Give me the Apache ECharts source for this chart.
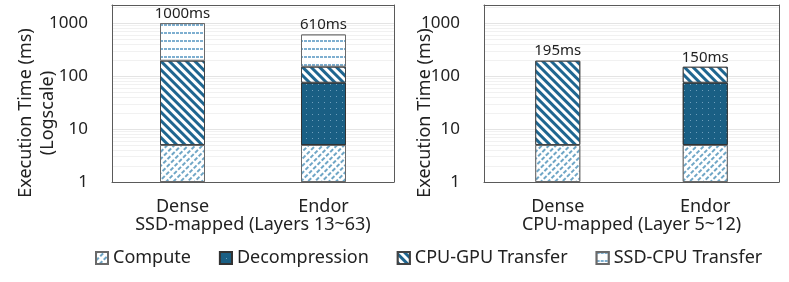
<!DOCTYPE html>
<html><head><meta charset="utf-8">
<script src="https://cdn.jsdelivr.net/npm/echarts@6/dist/echarts.min.js"></script>
<style>html,body{margin:0;padding:0;background:#fff}#c{width:789px;height:282px}</style>
</head><body><div id="c"></div>
<script>
const categories = ['Dense', 'Endor'];
const panelTitles = ['SSD-mapped (Layers 13~63)', 'CPU-mapped (Layer 5~12)'];
const yTicks = [1, 10, 100, 1000];
// left panel (SSD-mapped) segment values in ms
const ssdCompute = [5, 5];
const ssdDecompression = [null, 70];
const ssdCpuGpu = [190, 75];
const ssdSsdCpu = [805, 460];
const ssdTotals = ['1000ms', '610ms'];
// right panel (CPU-mapped)
const cpuCompute = [5, 5];
const cpuDecompression = [null, 70];
const cpuCpuGpu = [190, 75];
const cpuSsdCpu = [null, null];
const cpuTotals = ['195ms', '150ms'];

const FONT = 'Noto Sans';
const TXT = '#222';
const BORDER = '#5a5a5a';
const names = ['Compute', 'Decompression', 'CPU-GPU Transfer', 'SSD-CPU Transfer'];
const styles = {
  'Compute': {color: '#ffffff', borderColor: '#6a6a6a', borderWidth: 1,
    decal: {symbol: 'rect', color: '#6fa6c6', backgroundColor: '#ffffff', dashArrayX: [[4, 1.5]], dashArrayY: [1.5, 2.5], rotation: -Math.PI / 4, symbolSize: 1}},
  'Decompression': {color: '#1a5f84', borderColor: '#333', borderWidth: 1,
    decal: {symbol: 'rect', color: '#6e9ebb', backgroundColor: '#1a5f84', dashArrayX: [1, 4.5], dashArrayY: [1, 4.5], symbolSize: 1, rotation: 0}},
  'CPU-GPU Transfer': {color: '#ffffff', borderColor: '#444', borderWidth: 1,
    decal: {symbol: 'rect', color: '#1f6690', backgroundColor: '#ffffff', dashArrayX: [1, 0], dashArrayY: [3, 3], rotation: Math.PI / 4, symbolSize: 1}},
  'SSD-CPU Transfer': {color: '#ffffff', borderColor: '#6a6a6a', borderWidth: 1,
    decal: {symbol: 'rect', color: '#7eafd0', backgroundColor: '#ffffff', dashArrayX: [[3, 1]], dashArrayY: [2, 6], rotation: 0, symbolSize: 1}}
};

const panels = [
  {vals: [ssdCompute, ssdDecompression, ssdCpuGpu, ssdSsdCpu], totals: ssdTotals, topIdx: [3, 3]},
  {vals: [cpuCompute, cpuDecompression, cpuCpuGpu, cpuSsdCpu], totals: cpuTotals, topIdx: [2, 2]}
];

const grids = [
  {left: 112, top: 5, width: 282, height: 177},
  {left: 484, top: 5, width: 295, height: 177}
];

const xAxes = grids.map((g, i) => ({
  type: 'category', gridIndex: i, data: categories,
  axisTick: {show: false},
  axisLine: {show: true, lineStyle: {color: BORDER, width: 1}},
  axisLabel: {color: TXT, fontFamily: FONT, fontSize: 18, margin: 16},
  name: panelTitles[i], nameLocation: 'middle', nameGap: 34, nameMoveOverlap: false,
  nameTextStyle: {color: TXT, fontFamily: FONT, fontSize: 18}
}));
const xTop = grids.map((g, i) => ({
  type: 'category', gridIndex: i, position: 'top', data: categories,
  axisTick: {show: false}, axisLabel: {show: false},
  axisLine: {show: true, lineStyle: {color: BORDER, width: 1}}
}));
const yAxes = grids.map((g, i) => ({
  type: 'log', logBase: 10, gridIndex: i, min: 1, max: 2200,
  axisLine: {show: true, lineStyle: {color: BORDER}},
  axisTick: {show: false},
  axisLabel: {color: TXT, fontFamily: FONT, fontSize: 17, margin: 24,
    formatter: v => (yTicks.indexOf(Math.round(v)) >= 0 ? String(Math.round(v)) : '')},
  showMaxLabel: false,
  splitLine: {show: true, lineStyle: {color: '#e4e4e4', width: 1}},
  minorTick: {show: false, splitNumber: 9},
  minorSplitLine: {show: true, lineStyle: {color: '#f1f1f1', width: 1}}
}));
const yRight = grids.map((g, i) => ({
  type: 'value', gridIndex: i, position: 'right', min: 0, max: 1,
  axisLine: {show: true, lineStyle: {color: BORDER}}, axisLabel: {show: false},
  axisTick: {show: false}, splitLine: {show: false}
}));

const series = [];
panels.forEach((p, pi) => {
  names.forEach((n, si) => {
    series.push({
      name: n, type: 'bar', stack: 'p' + pi, xAxisIndex: pi, yAxisIndex: pi,
      barWidth: 45, data: p.vals[si].map(v => (v == null ? '-' : v)),
      itemStyle: styles[n],
      label: {
        show: p.topIdx.indexOf(si) >= 0, position: 'top', distance: 2,
        color: TXT, fontFamily: FONT, fontSize: 15,
        formatter: prm => p.totals[prm.dataIndex]
      },
      emphasis: {disabled: true}, animation: false
    });
  });
});

const chart = echarts.init(document.getElementById('c'), null, {renderer: 'canvas'});
chart.setOption({
  animation: false,
  aria: {enabled: false},
  grid: grids,
  xAxis: xAxes.concat(xTop),
  yAxis: yAxes.concat(yRight),
  legend: {
    data: names, bottom: 10, left: 90, icon: 'rect', itemWidth: 12, itemHeight: 12, itemGap: 28,
    textStyle: {color: TXT, fontFamily: FONT, fontSize: 18}
  },
  graphic: [
    {type: 'text', x: 26, y: 113, rotation: Math.PI / 2,
      style: {text: 'Execution Time (ms)', fill: TXT, font: '18px "Noto Sans"', textAlign: 'center', textVerticalAlign: 'middle'}},
    {type: 'text', x: 48, y: 113, rotation: Math.PI / 2,
      style: {text: '(Logscale)', fill: TXT, font: '18px "Noto Sans"', textAlign: 'center', textVerticalAlign: 'middle'}},
    {type: 'text', x: 425, y: 113, rotation: Math.PI / 2,
      style: {text: 'Execution Time (ms)', fill: TXT, font: '18px "Noto Sans"', textAlign: 'center', textVerticalAlign: 'middle'}}
  ],
  series: series
});
</script></body></html>
